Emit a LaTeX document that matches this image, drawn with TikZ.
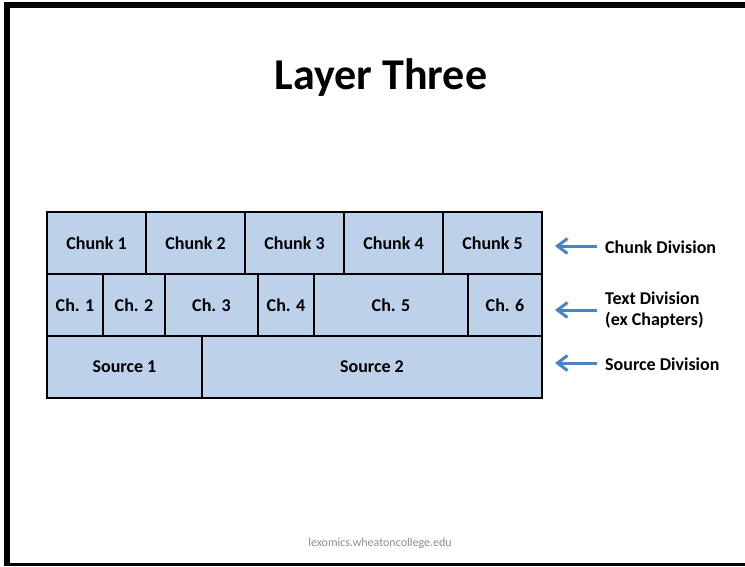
\documentclass[tikz,border=0pt]{standalone}
\usepackage{fontspec}
\setmainfont{Carlito}
\usetikzlibrary{arrows.meta}
\definecolor{cellblue}{RGB}{190,209,234}
\definecolor{arrowblue}{RGB}{79,129,189}
\definecolor{footgray}{RGB}{140,140,140}
\tikzset{
  cell/.style={draw=black, fill=cellblue, line width=2pt, inner sep=0pt,
    anchor=north west, minimum height=62pt,
    font=\fontsize{18}{21}\selectfont\bfseries},
  sidelabel/.style={anchor=west, inner sep=0pt, align=left,
    font=\fontsize{18}{21}\selectfont\bfseries},
  pointer/.style={draw=arrowblue, line width=3pt,
    -{Straight Barb[length=10pt,width=15pt]}, shorten <=8pt},
}
\begin{document}
\begin{tikzpicture}[x=1pt,y=-1pt]
\useasboundingbox (0,0) rectangle (745,566);
% slide frame
\fill[black] (4,2) rectangle (745,8);
\fill[black] (4,2) rectangle (10,566);
\fill[black] (4,563) rectangle (745,566);

% title
\node[font=\fontsize{44}{50}\selectfont\bfseries] (title) at (381,78) {Layer Three};

% chunk row
\node[cell, minimum width=99pt] (ck1) at (46,211) {Chunk 1};
\node[cell, minimum width=99pt] (ck2) at (145,211) {Chunk 2};
\node[cell, minimum width=99pt] (ck3) at (244,211) {Chunk 3};
\node[cell, minimum width=99pt] (ck4) at (343,211) {Chunk 4};
\node[cell, minimum width=99pt] (ck5) at (442,211) {Chunk 5};

% text division row
\node[cell, minimum width=56pt]  (ch1) at (46,273)  {Ch. 1};
\node[cell, minimum width=62pt]  (ch2) at (102,273) {Ch. 2};
\node[cell, minimum width=93pt]  (ch3) at (164,273) {Ch. 3};
\node[cell, minimum width=56pt]  (ch4) at (257,273) {Ch. 4};
\node[cell, minimum width=154pt] (ch5) at (313,273) {Ch. 5};
\node[cell, minimum width=74pt]  (ch6) at (467,273) {Ch. 6};

% source row
\node[cell, minimum width=155pt] (src1) at (46,335)  {Source 1};
\node[cell, minimum width=340pt] (src2) at (201,335) {Source 2};

% labels on the right
\node[sidelabel] (lchunk) at (605,247) {Chunk Division};
\node[sidelabel] (ltext)  at (605,310) {Text Division\\(ex Chapters)};
\node[sidelabel] (lsrc)   at (605,364) {Source Division};

\coordinate (tchunk) at (555,246);
\coordinate (ttext)  at (555,310);
\coordinate (tsrc)   at (555,363);
\draw[pointer] (lchunk.west |- tchunk) -- (tchunk);
\draw[pointer] (ltext.west |- ttext) -- (ttext);
\draw[pointer] (lsrc.west |- tsrc) -- (tsrc);

% footer
\node[text=footgray, font=\fontsize{12}{14}\selectfont] (foot) at (380,543) {lexomics.wheatoncollege.edu};
\end{tikzpicture}
\end{document}
